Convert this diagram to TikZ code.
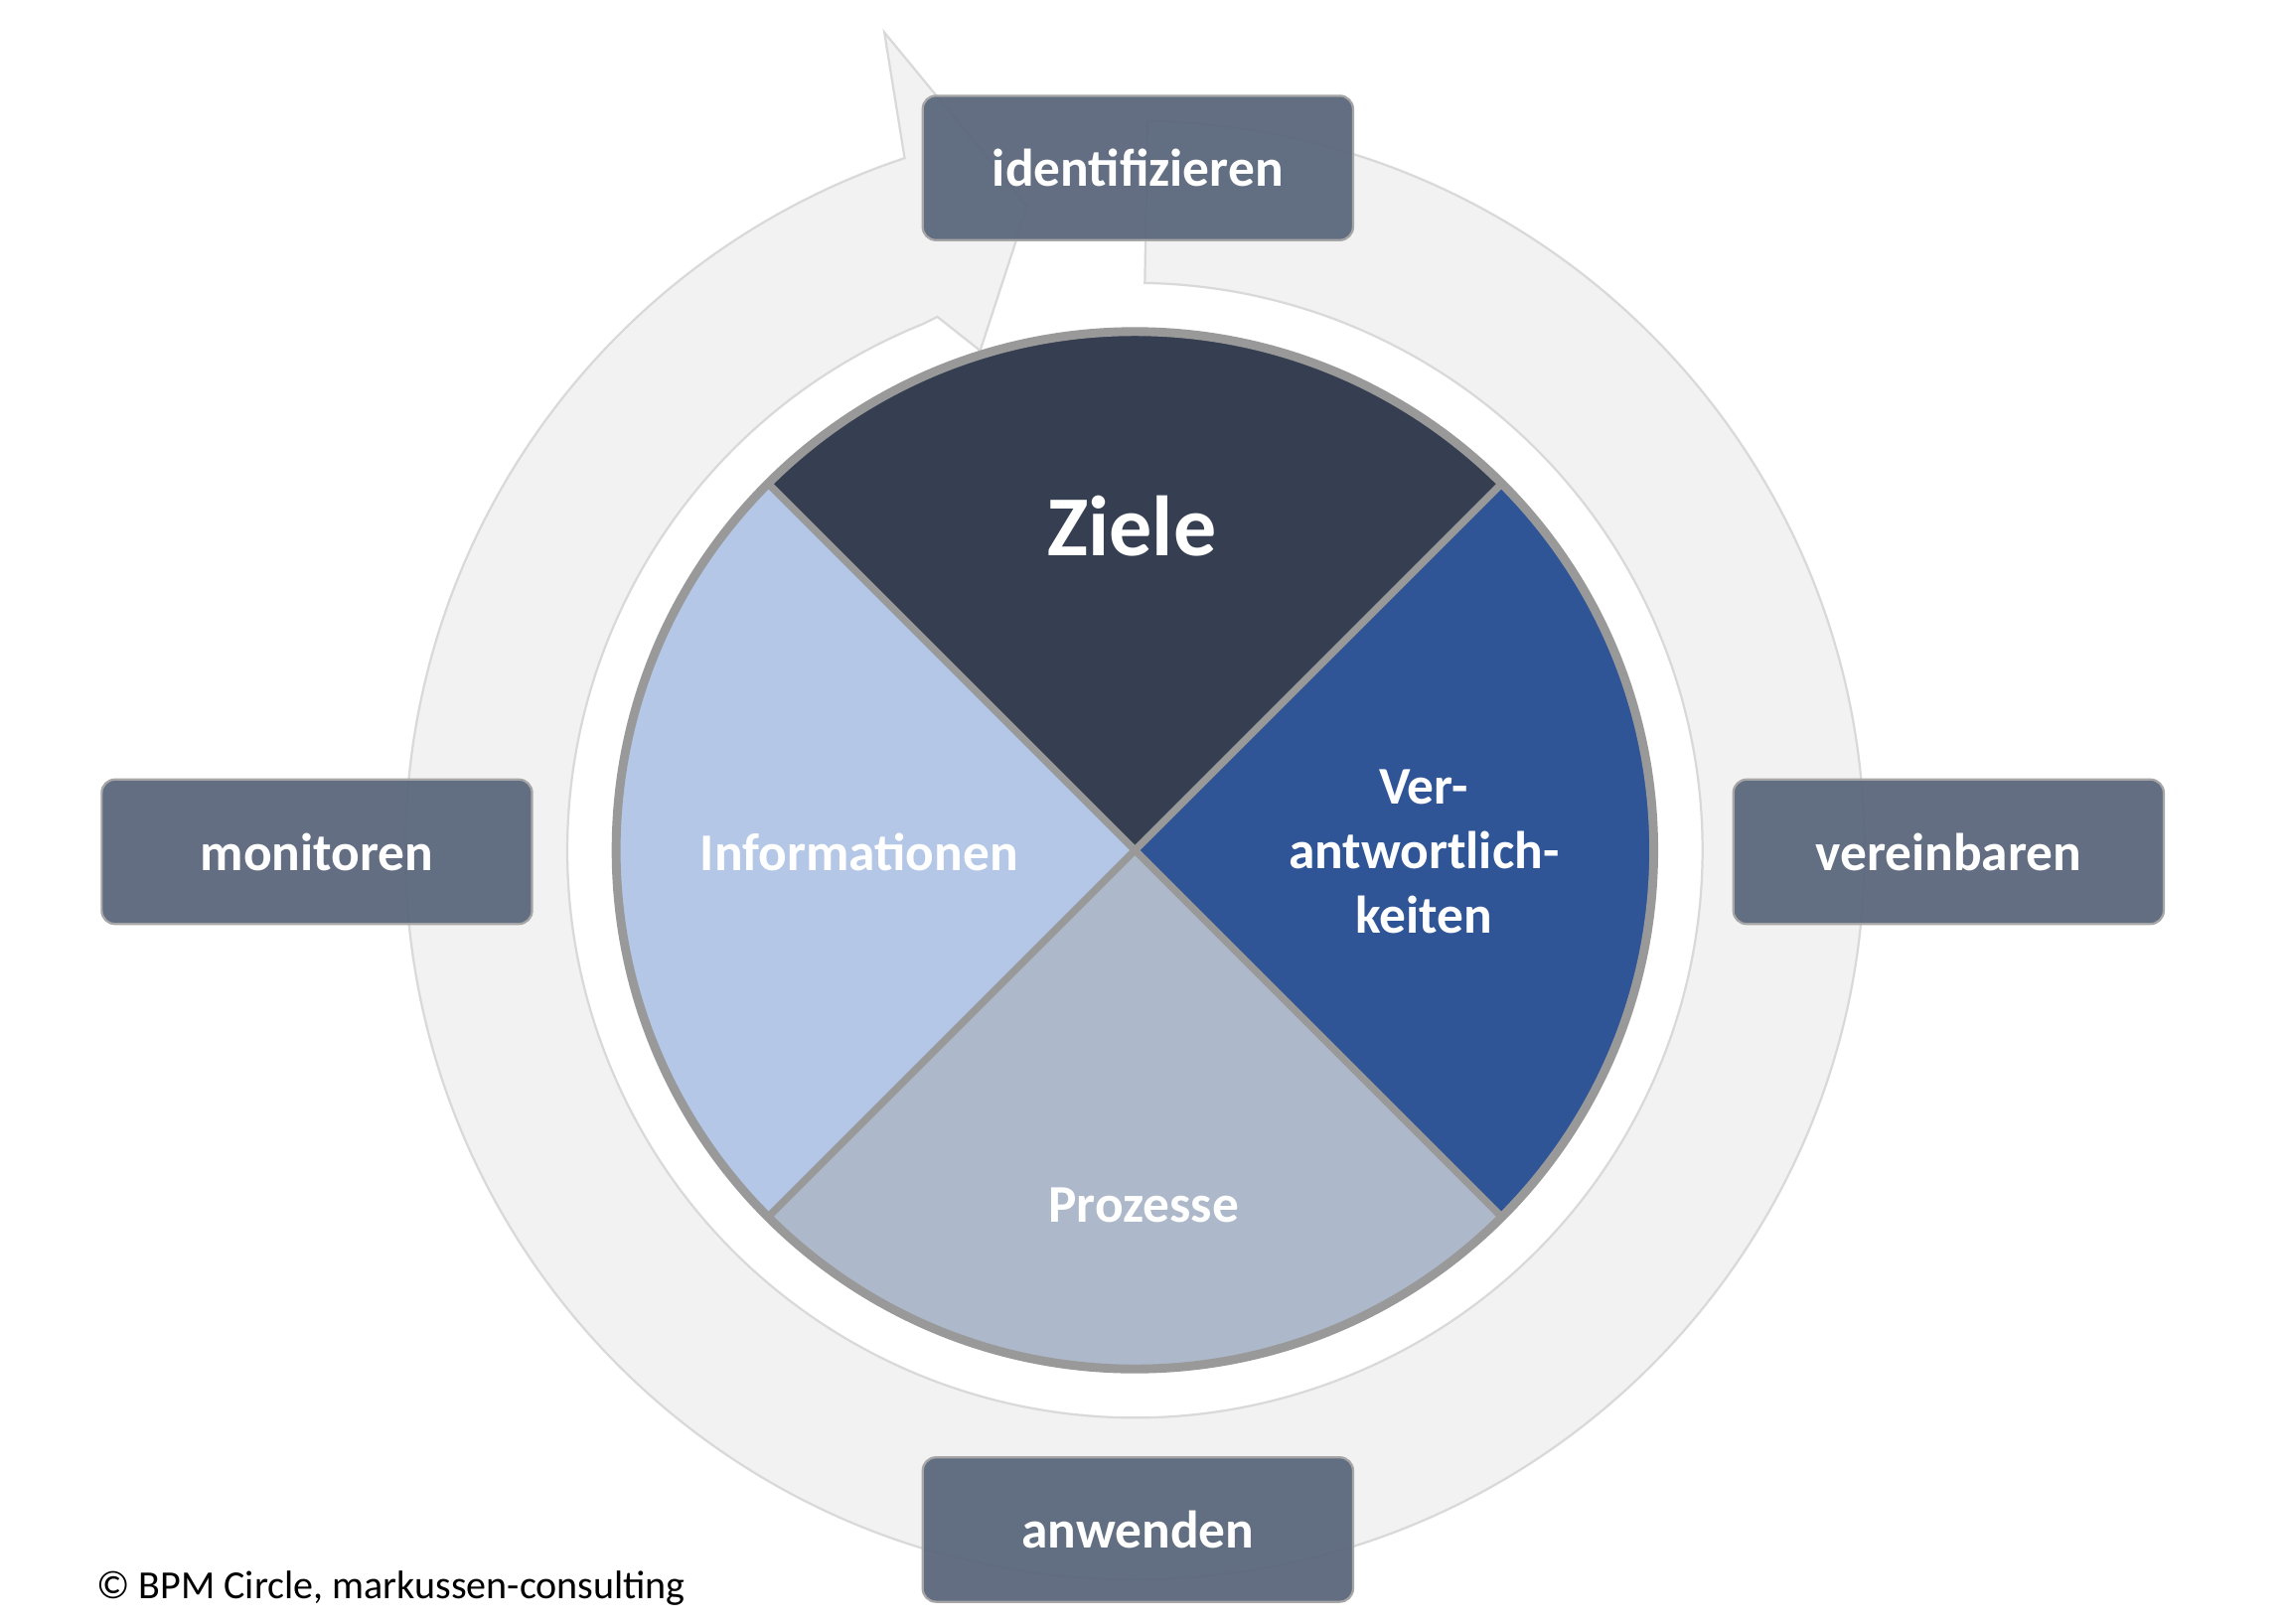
\documentclass[tikz,border=0pt]{standalone}
\usetikzlibrary{calc}
\usepackage{fontspec}
\setmainfont{Carlito}
\definecolor{zc}{HTML}{353F51}
\definecolor{vc}{HTML}{2F5597}
\definecolor{pc}{HTML}{ADB9CA}
\definecolor{ic}{HTML}{B4C7E7}
\definecolor{bx}{HTML}{5B677C}
\begin{document}
\begin{tikzpicture}[x=1pt,y=1pt,
  box/.style={draw=gray!70,line width=1.5pt,fill=bx,fill opacity=0.95,text opacity=1,rounded corners=9pt,minimum width=292pt,minimum height=98pt,text=white,font=\bfseries\fontsize{36}{40}\selectfont},
  lab/.style={text=white,font=\bfseries\fontsize{36}{44}\selectfont,align=center}]
\useasboundingbox (0,0) rectangle (1553,1102);
\fill[white] (0,0) rectangle (1553,1102);
\coordinate (c) at (770,525);
% ring arrow
\draw[fill=black!5,draw=black!15,line width=1.5pt]
  ($(c)+(89:495)$) arc[start angle=89,end angle=-251.6,radius=495]
  -- (600,1080) -- (697,962) -- (665,864) -- (636,887)
  -- ($(c)+(-248:385)$) arc[start angle=-248,end angle=89,radius=385] -- cycle;
% pie
\fill[zc] (c) -- ++(45:352) arc[start angle=45,end angle=135,radius=352] -- cycle;
\fill[vc] (c) -- ++(-45:352) arc[start angle=-45,end angle=45,radius=352] -- cycle;
\fill[pc] (c) -- ++(-135:352) arc[start angle=-135,end angle=-45,radius=352] -- cycle;
\fill[ic] (c) -- ++(135:352) arc[start angle=135,end angle=225,radius=352] -- cycle;
\draw[black!40,line width=6pt] (c) circle[radius=352];
\draw[black!40,line width=5pt] ($(c)+(45:352)$) -- ($(c)+(225:352)$) ($(c)+(135:352)$) -- ($(c)+(-45:352)$);
\node[lab,font=\bfseries\fontsize{58}{60}\selectfont] (ziele) at (768,745) {Ziele};
\node[lab] (info) at (583,524) {Informationen};
\node[lab] (ver) at (966,524) {Ver-\\antwortlich-\\keiten};
\node[lab] (proz) at (776,284) {Prozesse};
% boxes
\node[box] (ident) at (772,988) {identifizieren};
\node[box] (mon) at (215,524) {monitoren};
\node[box] (ver2) at (1322,524) {vereinbaren};
\node[box] (anw) at (772,64) {anwenden};
\node[anchor=west,font=\fontsize{27}{30}\selectfont] (copy) at (62,24) {© BPM Circle, markussen-consulting};
\end{tikzpicture}
\end{document}
